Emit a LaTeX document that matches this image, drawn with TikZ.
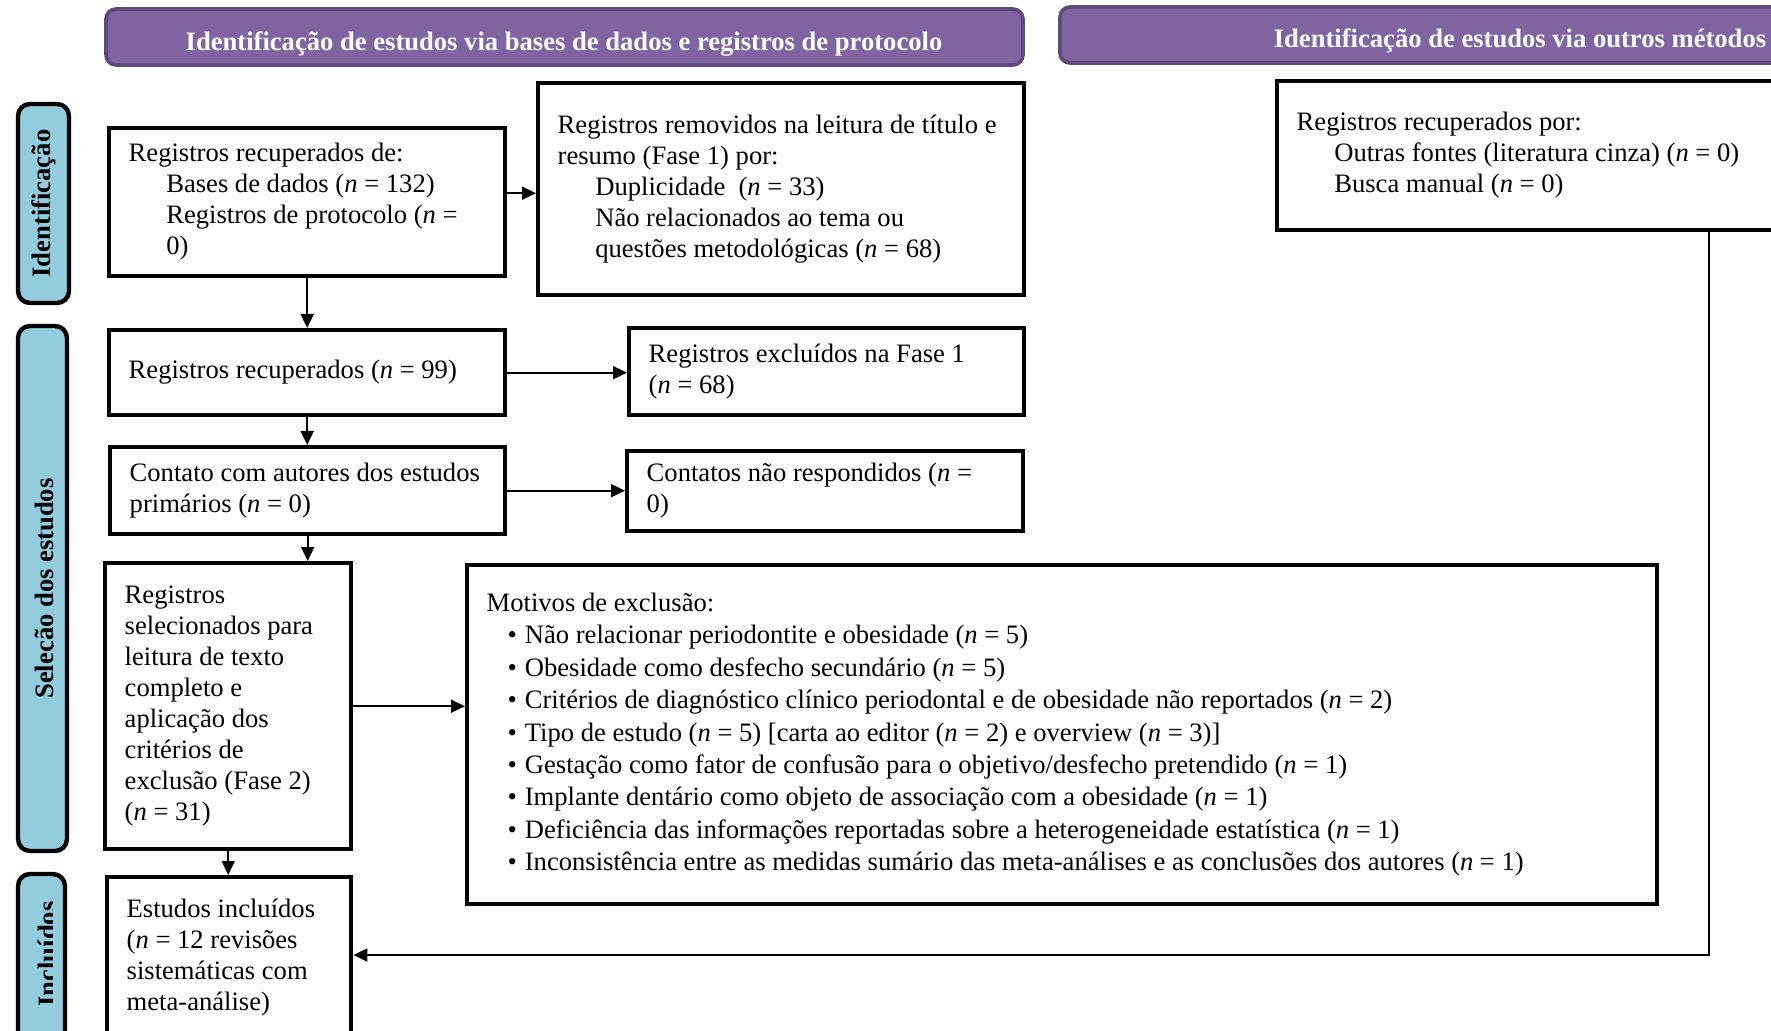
\documentclass[tikz,border=0pt]{standalone}
\usepackage{fontspec}
\setmainfont{Liberation Serif}
\usetikzlibrary{arrows.meta}
\definecolor{hdrfill}{HTML}{8064A2}
\definecolor{hdrline}{HTML}{5E4A7E}
\definecolor{sidefill}{HTML}{93CDDD}
\newcommand{\nval}{\textit{n}}
\newcommand{\ind}{\hspace*{18.8pt}}
\newcommand{\itm}{\hspace*{10.5pt}\makebox[8.6pt][l]{\textbullet}}
% fixed-width, left-aligned block of explicit lines
\newcommand{\blk}[2]{\makebox[#1][l]{\begin{tabular}{@{}l@{}}#2\end{tabular}}}
\tikzset{
  frame/.style={draw=black, line width=2.2pt, fill=white, inner xsep=9.75pt, inner ysep=0pt,
    anchor=north west, font=\fontsize{13.3pt}{15.5pt}\selectfont},
  hdr/.style={draw=hdrline, fill=hdrfill, line width=1.8pt, rounded corners=5pt},
  hdrtxt/.style={text=white, font=\bfseries\fontsize{13.3pt}{15pt}\selectfont, inner sep=0pt},
  side/.style={draw=black, fill=sidefill, line width=2.2pt, rounded corners=6pt},
  sidetxt/.style={rotate=90, font=\bfseries\fontsize{13.3pt}{15pt}\selectfont, inner sep=0pt},
  arr/.style={line width=0.9pt, -{Triangle[length=7pt,width=6.5pt]}}
}
\begin{document}
\begin{tikzpicture}[x=0.5pt,y=-0.5pt]
\useasboundingbox (0,0) rectangle (1771,1031);
\clip (0,0) rectangle (1771,1031);
\fill[white] (0,0) rectangle (1771,1031);

% column headers
\draw[hdr] (106,9) rectangle (1023,65);
\node[hdrtxt, anchor=base] (hdrdb) at (564,51) {Identificação de estudos via bases de dados e registros de protocolo};
\draw[hdr] (1060,7) rectangle (1990,63);
\node[hdrtxt, anchor=base] (hdrother) at (1520,47.5) {Identificação de estudos via outros métodos};

% phase labels
\draw[side] (18,104) rectangle (69,303);
\node[sidetxt] (lblid) at (43.5,203.5) {Identificação};
\draw[side] (18,326) rectangle (67,851);
\begin{scope}
  \clip (18,326) rectangle (53,851);
  \node[sidetxt, anchor=north] (lblsel) at (35,588.5) {Seleção dos estudos};
\end{scope}
\draw[side] (18,874) rectangle (65,1045);
\begin{scope}
  \clip (18,874) rectangle (52,1045);
  \node[sidetxt, anchor=north] (lblinc) at (38,954) {Incluídos};
\end{scope}

% boxes
\node[frame, minimum height=74pt] (A) at (107,126) {\blk{178.5pt}{%
  Registros recuperados de:\\
  \ind Bases de dados (\nval{} = 132)\\
  \ind Registros de protocolo (\nval{} =\\
  \ind 0)}};
\node[frame, minimum height=106pt] (B) at (536,81) {\blk{223.5pt}{%
  Registros removidos na leitura de título e\\
  resumo (Fase 1) por:\\
  \ind Duplicidade\ \ (\nval{} = 33)\\
  \ind Não relacionados ao tema ou\\
  \ind questões metodológicas (\nval{} = 68)}};
\node[frame, minimum height=74.5pt] (C) at (1275,79) {\blk{260.5pt}{%
  Registros recuperados por:\\
  \ind Outras fontes (literatura cinza) (\nval{} = 0)\\
  \ind Busca manual (\nval{} = 0)}};
\node[frame, minimum height=42.5pt] (D) at (107,328) {\blk{178.5pt}{%
  Registros recuperados (\nval{} = 99)}};
\node[frame, minimum height=43.5pt] (E) at (627,326) {\blk{178pt}{%
  Registros excluídos na Fase 1\\
  (\nval{} = 68)}};
\node[frame, minimum height=43.5pt] (F) at (108,445) {\blk{178pt}{%
  Contato com autores dos estudos\\
  primários (\nval{} = 0)}};
\node[frame, minimum height=40pt] (G) at (625,449) {\blk{178.5pt}{%
  Contatos não respondidos (\nval{} =\\
  0)}};
\node[frame, minimum height=143pt] (H) at (103,561) {\blk{103.5pt}{%
  Registros\\
  selecionados para\\
  leitura de texto\\
  completo e\\
  aplicação dos\\
  critérios de\\
  exclusão (Fase 2)\\
  (\nval{} = 31)}};
\node[frame, minimum height=169.5pt, font=\fontsize{13.3pt}{16.2pt}\selectfont] (I) at (465,563) {\blk{575.5pt}{%
  Motivos de exclusão:\\
  \itm Não relacionar periodontite e obesidade (\nval{} = 5)\\
  \itm Obesidade como desfecho secundário (\nval{} = 5)\\
  \itm Critérios de diagnóstico clínico periodontal e de obesidade não reportados (\nval{} = 2)\\
  \itm Tipo de estudo (\nval{} = 5) [carta ao editor (\nval{} = 2) e overview (\nval{} = 3)]\\
  \itm Gestação como fator de confusão para o objetivo/desfecho pretendido (\nval{} = 1)\\
  \itm Implante dentário como objeto de associação com a obesidade (\nval{} = 1)\\
  \itm Deficiência das informações reportadas sobre a heterogeneidade estatística (\nval{} = 1)\\
  \itm Inconsistência entre as medidas sumário das meta-análises e as conclusões dos autores (\nval{} = 1)}};
\node[frame, minimum height=81pt] (J) at (105,875) {\blk{102.5pt}{%
  Estudos incluídos\\
  (\nval{} = 12 revisões\\
  sistemáticas com\\
  meta-análise)}};

% connectors
\draw[arr] (A.south) -- (A.south |- D.north);
\draw[arr] ([yshift=4.5pt]A.east) -- ([yshift=4.5pt]A.east -| B.west);
\draw[arr] (D.east) -- (D.east -| E.west);
\draw[arr] (D.south) -- (D.south |- F.north);
\draw[arr] (F.east) -- (F.east -| G.west);
\draw[arr] (F.south) -- (F.south |- H.north);
\draw[arr] (H.east) -- (H.east -| I.west);
\draw[arr] (H.south) -- (H.south |- J.north);
\coordinate (bend) at (1709,955);
\draw[arr] (bend |- C.south) -- (bend) -- (bend -| J.east);
\end{tikzpicture}
\end{document}
